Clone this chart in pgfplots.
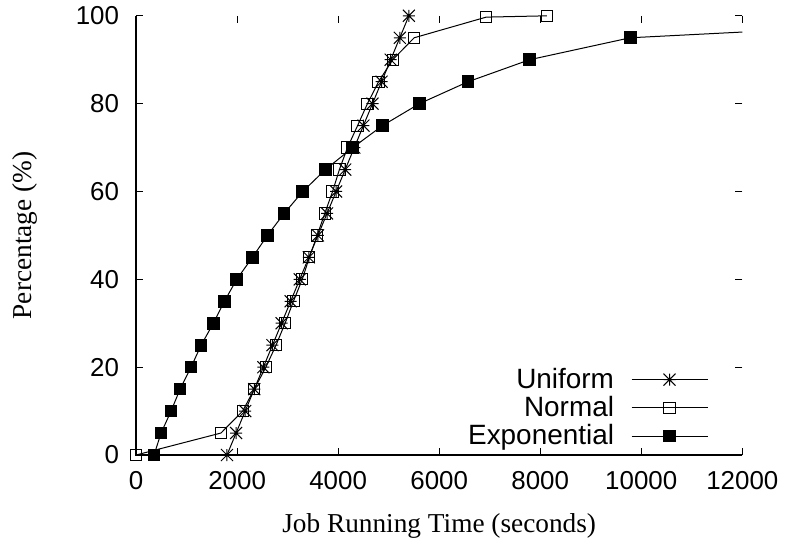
\documentclass[border=0pt]{standalone}
\usepackage{fontspec}
\usepackage{pgfplots}
\pgfplotsset{compat=1.18}
\setmainfont{Liberation Serif}
\newfontfamily\helv{Liberation Sans}

% gnuplot-style star: plus and cross combined
\pgfdeclareplotmark{gpstar}{%
  \pgfpathmoveto{\pgfqpoint{-\pgfplotmarksize}{0pt}}%
  \pgfpathlineto{\pgfqpoint{\pgfplotmarksize}{0pt}}%
  \pgfpathmoveto{\pgfqpoint{0pt}{-\pgfplotmarksize}}%
  \pgfpathlineto{\pgfqpoint{0pt}{\pgfplotmarksize}}%
  \pgfpathmoveto{\pgfqpoint{-\pgfplotmarksize}{-\pgfplotmarksize}}%
  \pgfpathlineto{\pgfqpoint{\pgfplotmarksize}{\pgfplotmarksize}}%
  \pgfpathmoveto{\pgfqpoint{-\pgfplotmarksize}{\pgfplotmarksize}}%
  \pgfpathlineto{\pgfqpoint{\pgfplotmarksize}{-\pgfplotmarksize}}%
  \pgfusepathqstroke}

\begin{document}
\begin{tikzpicture}
\begin{axis}[
  scale only axis,
  width=303bp, height=219.5bp,
  xmin=0, xmax=12000, ymin=0, ymax=100,
  xtick={0,2000,...,12000},
  ytick={0,20,...,100},
  scaled ticks=false,
  /pgf/number format/1000 sep={},
  /pgf/number format/assume math mode=true,
  ticklabel style={font=\helv\fontsize{13}{15}\selectfont},
  xticklabel style={yshift=-4.5bp},
  yticklabel style={xshift=-5bp},
  tick align=inside,
  major tick length=3.5bp,
  every tick/.style={black, line width=0.5bp},
  axis line style={draw=none},
  xlabel={Job Running Time (seconds)},
  ylabel={Percentage (\%)},
  every axis x label/.style={at={(rel axis cs:0.5,0)}, anchor=base, yshift=-38.5bp,
    font=\fontsize{13.7}{16}\selectfont},
  every axis y label/.style={at={(rel axis cs:0,0.5)}, xshift=-55.5bp, rotate=90, anchor=center,
    font=\fontsize{13.7}{16}\selectfont},
  legend style={draw=none, fill=none, at={(0.954,0.0)}, anchor=south east,
    font=\helv\fontsize{14}{16}\selectfont, row sep=-0.5bp,
    nodes={inner sep=1.5bp}},
  legend cell align=right,
  legend plot pos=right,
  legend image code/.code={%
    \path (0bp,0bp);
    \draw[mark repeat=2,mark phase=2,line width=0.5bp]
      plot coordinates {(7bp,0bp) (26bp,0bp) (45bp,0bp)};},
  every axis plot/.append style={black, line width=0.5bp,
    mark options={solid, line width=0.5bp}},
]
\coordinate (sw) at (rel axis cs:0,0);
\coordinate (nw) at (rel axis cs:0,1);
\coordinate (se) at (rel axis cs:1,0);

\addplot[mark=gpstar, mark size=3bp] coordinates {
  (1800,0) (1980,5) (2160,10) (2340,15) (2520,20) (2700,25) (2880,30)
  (3060,35) (3240,40) (3420,45) (3600,50) (3780,55) (3960,60) (4140,65)
  (4320,70) (4500,75) (4680,80) (4860,85) (5040,90) (5220,95) (5400,100)};
\addlegendentry{Uniform}

\addplot[mark=square, mark size=2.8bp, mark options={fill=white}] coordinates {
  (0,0) (1680,5) (2110,10) (2340,15) (2570,20) (2770,25) (2950,30)
  (3115,35) (3290,40) (3430,45) (3585,50) (3735,55) (3890,60) (4025,65)
  (4185,70) (4385,75) (4580,80) (4800,85) (5080,90) (5505,95)
  (6930,99.7) (8130,100)};
\addlegendentry{Normal}

\addplot[mark=square*, mark size=2.9bp] coordinates {
  (356,0) (495,5) (693,10) (871,15) (1089,20) (1287,25) (1531,30)
  (1749,35) (1993,40) (2303,45) (2600,50) (2931,55) (3300,60) (3749,65)
  (4290,70) (4878,75) (5610,80) (6574,85) (7789,90) (9782,95)};
\addlegendentry{Exponential}

% last exponential step runs past the right edge of the axis
\addplot[no marks, forget plot] coordinates {(9782,95) (18300,100)};
\end{axis}
\draw[black, line width=0.6bp] (nw) -- (sw) -- (se);
% page margins around the plot
\path ([xshift=-68bp,yshift=-42.5bp]sw);
\end{tikzpicture}
\end{document}
